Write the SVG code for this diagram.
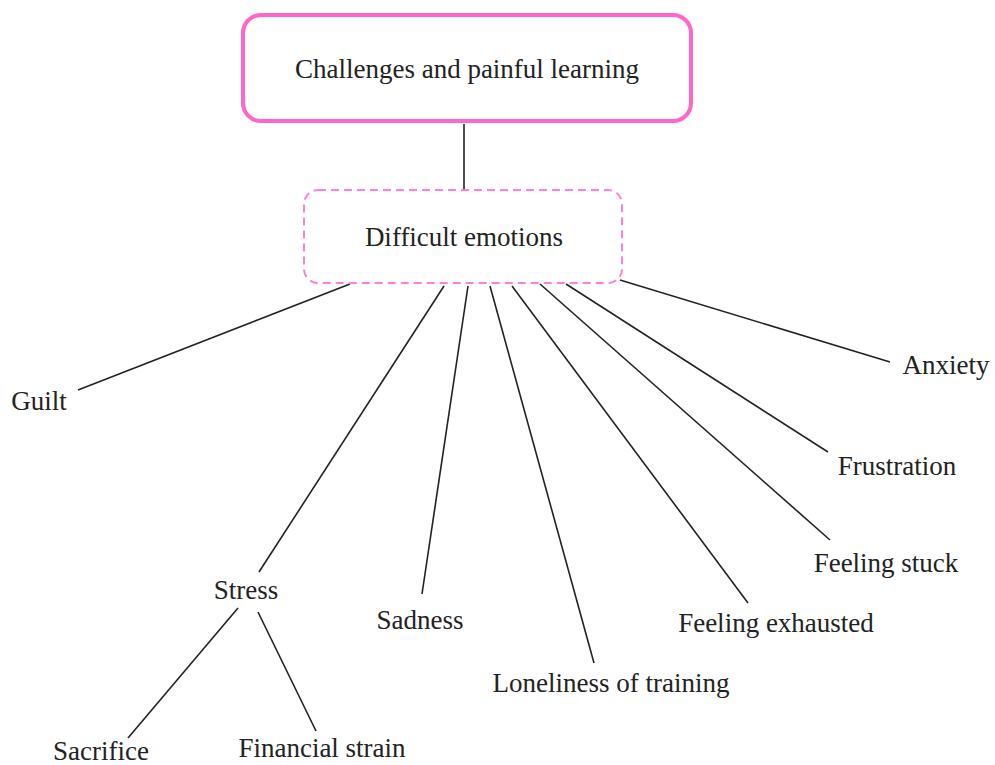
<svg xmlns="http://www.w3.org/2000/svg" width="995" height="765" viewBox="0 0 995 765">
  <style>
    text { font-family: "Liberation Serif", "Times New Roman", Times, serif; font-size: 27px; fill: #222; text-anchor: middle; }
    .conn line { stroke: #222; stroke-width: 1.6; }
  </style>
  <rect width="995" height="765" fill="#fff"/>
  <g id="connectors" class="conn">
    <line x1="464" y1="124" x2="464" y2="190"/>
    <line x1="350" y1="284" x2="78" y2="390"/>
    <line x1="444" y1="286" x2="259" y2="572"/>
    <line x1="468" y1="286" x2="422" y2="594"/>
    <line x1="490" y1="286" x2="594" y2="663"/>
    <line x1="512" y1="286" x2="748" y2="603"/>
    <line x1="540" y1="284" x2="830" y2="540"/>
    <line x1="566" y1="284" x2="828" y2="452"/>
    <line x1="620" y1="280" x2="890" y2="362"/>
    <line x1="238" y1="608" x2="128" y2="738"/>
    <line x1="258" y1="612" x2="316" y2="731"/>
  </g>
  <g id="root">
    <rect x="243" y="15" width="448" height="106" rx="18" fill="#fff" stroke="#ff66cc" stroke-width="4"/>
    <text x="467" y="78">Challenges and painful learning</text>
  </g>
  <g id="difficult-emotions">
    <rect x="304" y="190" width="318" height="93" rx="14" fill="#fff" stroke="#ff80d5" stroke-width="2" stroke-dasharray="8 5"/>
    <text x="464" y="246">Difficult emotions</text>
  </g>
  <g id="guilt"><text x="39" y="410">Guilt</text></g>
  <g id="stress"><text x="246" y="599">Stress</text></g>
  <g id="sadness"><text x="420" y="629">Sadness</text></g>
  <g id="loneliness"><text x="611" y="692">Loneliness of training</text></g>
  <g id="feeling-exhausted"><text x="776" y="632">Feeling exhausted</text></g>
  <g id="feeling-stuck"><text x="886" y="572">Feeling stuck</text></g>
  <g id="frustration"><text x="897" y="475">Frustration</text></g>
  <g id="anxiety"><text x="946" y="374">Anxiety</text></g>
  <g id="sacrifice"><text x="101" y="760">Sacrifice</text></g>
  <g id="financial-strain"><text x="322" y="757">Financial strain</text></g>
</svg>
